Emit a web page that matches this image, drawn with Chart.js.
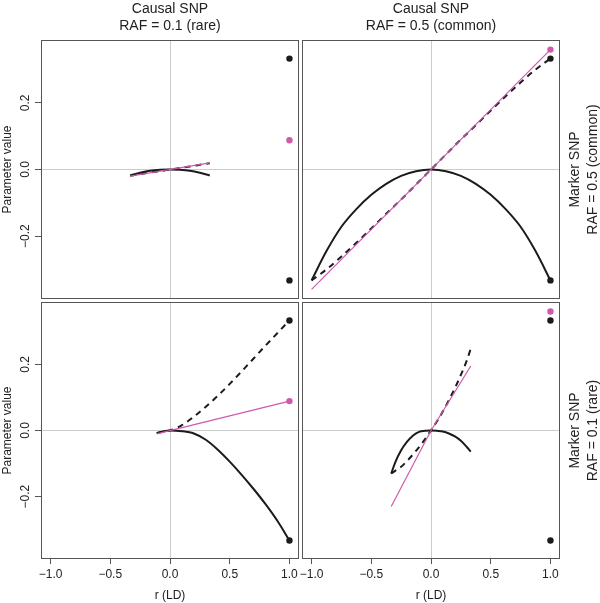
<!DOCTYPE html>
<html>
<head>
<meta charset="utf-8">
<script src="https://cdn.jsdelivr.net/npm/chart.js@4"></script>
<style>
  body { margin: 0; background: #fff; }
  #wrap { position: relative; width: 600px; height: 603px; }
  canvas { position: absolute; }
</style>
</head>
<body>
<div id="wrap">
  <canvas id="tl" width="300" height="300" style="left:0;top:0"></canvas>
  <canvas id="tr" width="300" height="300" style="left:300px;top:0"></canvas>
  <canvas id="bl" width="300" height="303" style="left:0;top:300px"></canvas>
  <canvas id="br" width="300" height="303" style="left:300px;top:300px"></canvas>
</div>
<script>
/* datos */

const xTicks = [-1, -0.5, 0, 0.5, 1];
const yTicks = [-0.2, 0, 0.2];

const colHeads = [['Causal SNP', 'RAF = 0.1 (rare)'], ['Causal SNP', 'RAF = 0.5 (common)']];
const rowHeads = [['Marker SNP', 'RAF = 0.5 (common)'], ['Marker SNP', 'RAF = 0.1 (rare)']];

// puntos en r = 1
const dotR = [1, 1];
const blackDots = [0.333, -0.333];
const pinkDots = [0.088, 0.36, 0.089, 0.36]; // tl, tr, bl, br

// arriba izquierda: causal raro, marcador comun
const rTL = [-0.333, -0.25, -0.167, -0.083, 0, 0.083, 0.167, 0.25, 0.333];
const solidTL = [-0.018, -0.010, -0.004, -0.001, 0, -0.001, -0.004, -0.010, -0.018];
const dashTL = [-0.019, -0.014, -0.009, -0.005, 0, 0.005, 0.009, 0.014, 0.019];
const rPinkTL = [-0.333, 0.333];
const pinkTL = [-0.020, 0.020];

// arriba derecha: ambos comunes
const rTR = [-1, -0.875, -0.75, -0.625, -0.5, -0.375, -0.25, -0.125, 0, 0.125, 0.25, 0.375, 0.5, 0.625, 0.75, 0.875, 1];
const solidTR = [-0.333, -0.245, -0.172, -0.119, -0.076, -0.043, -0.019, -0.005, 0, -0.005, -0.019, -0.043, -0.076, -0.119, -0.172, -0.245, -0.333];
const dashTR = [-0.333, -0.300, -0.261, -0.220, -0.177, -0.133, -0.090, -0.045, 0, 0.045, 0.090, 0.133, 0.177, 0.220, 0.261, 0.300, 0.333];
const rPinkTR = [-1, 1];
const pinkTR = [-0.36, 0.36];

// abajo izquierda: ambos raros
const rBL = [-0.111, -0.05, 0, 0.1, 0.2, 0.3, 0.4, 0.5, 0.6, 0.7, 0.8, 0.9, 1.0];
const solidBL = [-0.008, -0.002, 0, -0.002, -0.009, -0.028, -0.058, -0.094, -0.134, -0.177, -0.223, -0.274, -0.333];
const dashBL = [-0.008, -0.003, 0, 0.016, 0.042, 0.072, 0.105, 0.141, 0.179, 0.218, 0.257, 0.295, 0.333];
const rPinkBL = [-0.111, 1];
const pinkBL = [-0.010, 0.089];

// abajo derecha: causal comun, marcador raro
const rBR = [-0.333, -0.3, -0.25, -0.2, -0.15, -0.1, -0.05, 0, 0.05, 0.1, 0.15, 0.2, 0.25, 0.3, 0.333];
const solidBR = [-0.130, -0.097, -0.060, -0.034, -0.015, -0.004, -0.001, 0, -0.001, -0.003, -0.009, -0.018, -0.031, -0.050, -0.064];
const dashBR = [-0.130, -0.122, -0.110, -0.092, -0.072, -0.050, -0.026, 0, 0.028, 0.058, 0.092, 0.128, 0.168, 0.212, 0.248];
const rPinkBR = [-0.333, 0, 0.333];
const pinkBR = [-0.230, 0, 0.195];


/* estilos */

const BLACK = '#1b1b1b';
const PINK = '#cf5aac';
const FONT = '"Liberation Sans", Arial, Helvetica, sans-serif';

Chart.defaults.font.family = FONT;
Chart.defaults.color = '#222';

function pts(xs, ys) {
    return xs.map((x, i) => ({x: x, y: ys[i]}));
}

function fmt(v) {
    return (v < 0 ? '\u2212' : '') + Math.abs(v).toFixed(1);
}

function panelSets(r, solid, dash, rPink, pink, pinkDot) {
    return [
        {data: pts(dotR, blackDots), showLine: false, pointRadius: 3.2, backgroundColor: BLACK, borderWidth: 0},
        {data: [{x: 1, y: pinkDot}], showLine: false, pointRadius: 3.2, backgroundColor: PINK, borderWidth: 0},
        {data: pts(rPink, pink), showLine: true, pointRadius: 0, borderColor: PINK, borderWidth: 1.2, tension: 0},
        {data: pts(r, dash), showLine: true, pointRadius: 0, borderColor: BLACK, borderWidth: 2, borderDash: [6, 5], cubicInterpolationMode: 'monotone'},
        {data: pts(r, solid), showLine: true, pointRadius: 0, borderColor: BLACK, borderWidth: 2, cubicInterpolationMode: 'monotone'}
    ];
}


/* caja, etiquetas del eje y giradas y textos de los bordes */

const panelDecor = {
    id: 'panelDecor',
    afterDraw(chart, args, opts) {
        const ctx = chart.ctx;
        const a = chart.chartArea;
        ctx.save();
        ctx.strokeStyle = '#555';
        ctx.lineWidth = 1;
        ctx.strokeRect(Math.round(a.left) + 0.5, Math.round(a.top) + 0.5,
            Math.round(a.right - a.left) - 1, Math.round(a.bottom - a.top) - 1);

        ctx.fillStyle = '#222';
        ctx.textAlign = 'center';
        ctx.textBaseline = 'middle';
        const cx = (a.left + a.right) / 2;
        const cy = (a.top + a.bottom) / 2;

        if (opts.top) {
            ctx.font = '14px ' + FONT;
            ctx.fillText(opts.top[0], cx, a.top - 31);
            ctx.fillText(opts.top[1], cx, a.top - 14);
        }
        if (opts.side) {
            ctx.font = '14px ' + FONT;
            [15, 33].forEach(function(dx, i) {
                ctx.save();
                ctx.translate(a.right + dx, cy);
                ctx.rotate(-Math.PI / 2);
                ctx.fillText(opts.side[i], 0, 0);
                ctx.restore();
            });
        }
        if (opts.yLabels) {
            ctx.font = '12px ' + FONT;
            const ys = chart.scales.y;
            yTicks.forEach(function(v) {
                ctx.save();
                ctx.translate(a.left - 15, ys.getPixelForValue(v));
                ctx.rotate(-Math.PI / 2);
                ctx.fillText(fmt(v), 0, 0);
                ctx.restore();
            });
        }
        ctx.restore();
    }
};

function zeroGrid(c) {
    return c.tick && c.tick.value === 0 ? '#cccccc' : 'rgba(0,0,0,0)';
}

function makePanel(id, sets, left, bottom, decor) {
    return new Chart(document.getElementById(id), {
        type: 'scatter',
        data: {datasets: sets},
        plugins: [panelDecor],
        options: {
            responsive: false,
            animation: false,
            events: [],
            layout: {
                autoPadding: false,
                padding: {left: left ? 0 : 2, right: left ? 1 : 40, top: bottom ? 2 : 40, bottom: bottom ? 0 : 1}
            },
            plugins: {
                legend: {display: false},
                tooltip: {enabled: false},
                panelDecor: decor
            },
            scales: {
                x: {
                    type: 'linear',
                    min: -1.08,
                    max: 1.08,
                    afterBuildTicks: function(s) { s.ticks = xTicks.map(v => ({value: v})); },
                    afterFit: function(s) { s.height = bottom ? 44 : 0; s.paddingLeft = 0; s.paddingRight = 0; },
                    border: {display: false},
                    grid: {color: zeroGrid, lineWidth: 1, drawTicks: bottom, tickLength: 5, tickColor: '#555'},
                    ticks: {display: bottom, padding: 3, font: {size: 12}, color: '#222', callback: fmt, maxRotation: 0},
                    title: {display: bottom, text: 'r (LD)', font: {size: 12}, padding: {top: 0, bottom: 0}, color: '#222'}
                },
                y: {
                    type: 'linear',
                    min: -0.3888,
                    max: 0.3888,
                    afterBuildTicks: function(s) { s.ticks = yTicks.map(v => ({value: v})); },
                    afterFit: function(s) { s.width = left ? 41 : 0; s.paddingTop = 0; s.paddingBottom = 0; },
                    border: {display: false},
                    grid: {color: zeroGrid, lineWidth: 1, drawTicks: left, tickLength: 6, tickColor: '#555'},
                    ticks: {display: false},
                    title: {display: left, text: 'Parameter value', font: {size: 12}, padding: {top: 0, bottom: 0}, color: '#222'}
                }
            }
        }
    });
}

var chartTL = makePanel('tl', panelSets(rTL, solidTL, dashTL, rPinkTL, pinkTL, pinkDots[0]), true, false,
    {top: colHeads[0], yLabels: true});
var chartTR = makePanel('tr', panelSets(rTR, solidTR, dashTR, rPinkTR, pinkTR, pinkDots[1]), false, false,
    {top: colHeads[1], side: rowHeads[0]});
var chartBL = makePanel('bl', panelSets(rBL, solidBL, dashBL, rPinkBL, pinkBL, pinkDots[2]), true, true,
    {yLabels: true});
var chartBR = makePanel('br', panelSets(rBR, solidBR, dashBR, rPinkBR, pinkBR, pinkDots[3]), false, true,
    {side: rowHeads[1]});
</script>
</body>
</html>
